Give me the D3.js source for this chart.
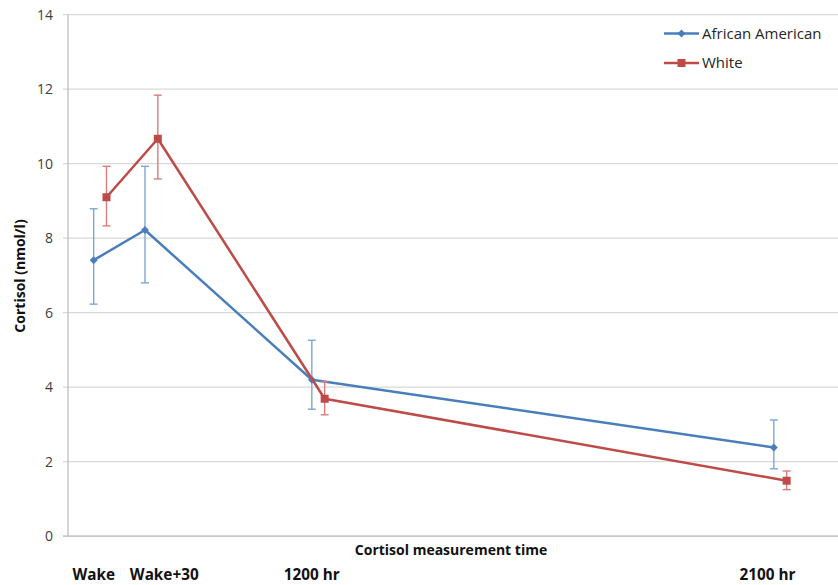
<!DOCTYPE html>
<html>
<head>
<meta charset="utf-8">
<script src="https://cdn.jsdelivr.net/npm/d3@7"></script>
<style>
  body { margin: 0; background: #fff; }
  svg { display: block; font-family: "Open Sans", "DejaVu Sans", sans-serif; }
  .grid line { stroke: #d9d9d9; stroke-width: 1.3; }
  .ylabel { font-size: 14px; fill: #404040; }
  .xlabel { font-size: 15.3px; font-weight: bold; fill: #111; }
  .title { font-size: 14px; font-weight: bold; fill: #111; }
  .legend text { font-size: 15px; fill: #262626; }
</style>
</head>
<body>
<svg id="chart" width="838" height="585"></svg>
<script>
// time points, x position on an arbitrary 0-60 axis (white series drawn one unit right)
const timeLabels = ['Wake', 'Wake+30', '1200 hr', '2100 hr']
const labelPos = [2, 7.5, 19, 54.5]

const aaX = [2, 6, 19, 55]
const aaMean = [7.41, 8.22, 4.20, 2.38]
const aaLow = [6.23, 6.80, 3.41, 1.81]
const aaHigh = [8.79, 9.93, 5.26, 3.12]

const whX = [3, 7, 20, 56]
const whMean = [9.10, 10.67, 3.69, 1.49]
const whLow = [8.33, 9.59, 3.26, 1.25]
const whHigh = [9.93, 11.84, 4.15, 1.75]

const yTicks = [0, 2, 4, 6, 8, 10, 12, 14]

const series = [
  { name: 'African American', x: aaX, mean: aaMean, low: aaLow, high: aaHigh,
    line: '#4a7ebb', err: '#7ea6d8', marker: 'diamond' },
  { name: 'White', x: whX, mean: whMean, low: whLow, high: whHigh,
    line: '#be4b48', err: '#d67e7c', marker: 'square' }
]

const svg = d3.select('#chart')

const x = d3.scaleLinear().domain([0, 60]).range([68, 838])
const y = d3.scaleLinear().domain([0, 14]).range([536.2, 14.7])

// gridlines
svg.append('g')
    .attr('class', 'grid')
  .selectAll('line')
  .data(yTicks)
  .enter().append('line')
    .attr('x1', x(0) - 5)
    .attr('x2', x(60))
    .attr('y1', d => y(d))
    .attr('y2', d => y(d))

// axis lines
svg.append('line')
    .attr('x1', x(0)).attr('x2', x(0))
    .attr('y1', y(0)).attr('y2', y(14))
    .attr('stroke', '#bfbfbf').attr('stroke-width', 1.3)
svg.append('line')
    .attr('x1', x(0) - 5).attr('x2', x(60))
    .attr('y1', y(0)).attr('y2', y(0))
    .attr('stroke', '#bfbfbf').attr('stroke-width', 1.3)

svg.append('g')
  .selectAll('text')
  .data(yTicks)
  .enter().append('text')
    .attr('class', 'ylabel')
    .attr('x', 53)
    .attr('y', d => y(d))
    .attr('dy', '0.35em')
    .attr('text-anchor', 'end')
    .text(d => d)

svg.append('g')
  .selectAll('text')
  .data(timeLabels)
  .enter().append('text')
    .attr('class', 'xlabel')
    .attr('x', (d, i) => x(labelPos[i]))
    .attr('y', 580)
    .attr('text-anchor', 'middle')
    .text(d => d)

svg.append('text')
    .attr('class', 'title')
    .attr('x', 451)
    .attr('y', 555)
    .attr('text-anchor', 'middle')
    .text('Cortisol measurement time')

svg.append('text')
    .attr('class', 'title')
    .attr('transform', 'translate(25,276) rotate(-90)')
    .attr('text-anchor', 'middle')
    .text('Cortisol (nmol/l)')

const capw = 4

function marker(sel, s) {
  if (s.marker == 'diamond') {
    sel.append('path')
      .attr('d', d3.symbol().type(d3.symbolDiamond2).size(40))
      .attr('fill', s.line)
  } else {
    sel.append('rect')
      .attr('x', -4).attr('y', -4)
      .attr('width', 8).attr('height', 8)
      .attr('fill', s.line)
  }
}

series.forEach(s => {
  const pts = s.x.map((xv, i) => ({ x: xv, m: s.mean[i], lo: s.low[i], hi: s.high[i] }))
  const g = svg.append('g')

  const err = g.selectAll('.err')
    .data(pts)
    .enter().append('g')
      .attr('class', 'err')
      .attr('stroke', s.err)
      .attr('stroke-width', 1.4)

  err.append('line')
    .attr('x1', d => x(d.x)).attr('x2', d => x(d.x))
    .attr('y1', d => y(d.lo)).attr('y2', d => y(d.hi))
  err.append('line')
    .attr('x1', d => x(d.x) - capw).attr('x2', d => x(d.x) + capw)
    .attr('y1', d => y(d.hi)).attr('y2', d => y(d.hi))
  err.append('line')
    .attr('x1', d => x(d.x) - capw).attr('x2', d => x(d.x) + capw)
    .attr('y1', d => y(d.lo)).attr('y2', d => y(d.lo))

  g.append('path')
    .datum(pts)
    .attr('fill', 'none')
    .attr('stroke', s.line)
    .attr('stroke-width', 2.5)
    .attr('stroke-linejoin', 'round')
    .attr('d', d3.line().x(d => x(d.x)).y(d => y(d.m)))

  g.selectAll('.pt')
    .data(pts)
    .enter().append('g')
      .attr('class', 'pt')
      .attr('transform', d => 'translate(' + x(d.x) + ',' + y(d.m) + ')')
      .each(function() { marker(d3.select(this), s) })
})

// legend
const legend = svg.append('g')
    .attr('class', 'legend')
  .selectAll('g')
  .data(series)
  .enter().append('g')
    .attr('transform', (d, i) => 'translate(664,' + (33.5 + i * 29.5) + ')')

legend.append('line')
    .attr('x1', 0).attr('x2', 35)
    .attr('stroke', d => d.line)
    .attr('stroke-width', 2.5)
legend.append('g')
    .attr('transform', 'translate(17.5,0)')
    .each(function(d) { marker(d3.select(this), d) })
legend.append('text')
    .attr('x', 38)
    .attr('dy', '0.35em')
    .text(d => d.name)
</script>
</body>
</html>
